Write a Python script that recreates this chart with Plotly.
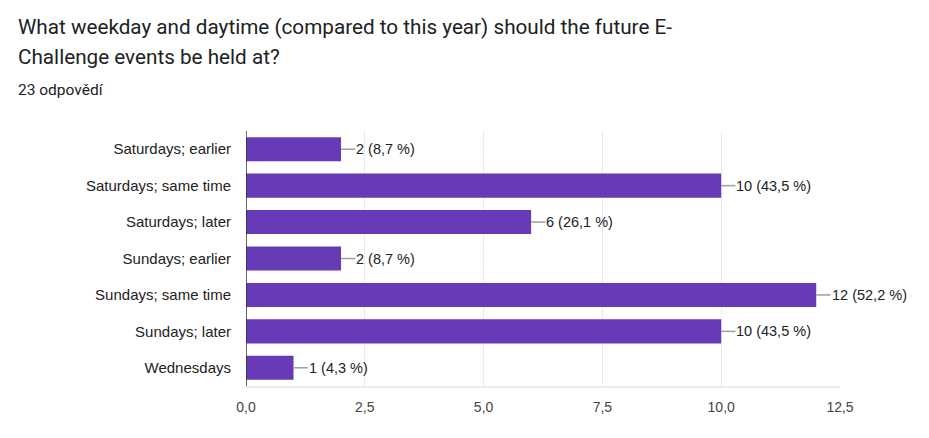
import plotly.graph_objects as go

categories = ["Saturdays; earlier", "Saturdays; same time", "Saturdays; later",
              "Sundays; earlier", "Sundays; same time", "Sundays; later", "Wednesdays"]
counts = [2, 10, 6, 2, 12, 10, 1]
total = 23
x_ticks = [0, 2.5, 5, 7.5, 10, 12.5]

labels = [f"{c} ({c / total * 100:.1f} %)".replace(".", ",") for c in counts]

# page body has an 8px margin; compensate so the chart sits like the reference
W, H = 913, 422
L, R, T, B = 238, 81, 123, 44
PW, PH = W - L - R, H - T - B

fig = go.Figure()
fig.add_trace(go.Bar(
    y=categories, x=counts, orientation="h",
    marker=dict(color="#673ab7", line=dict(width=0)),
    hoverinfo="skip",
))

# leader lines
lx, ly = [], []
for cat, c in zip(categories, counts):
    lx += [c, c + 0.3, None]
    ly += [cat, cat, None]
fig.add_trace(go.Scatter(x=lx, y=ly, mode="lines",
                         line=dict(color="#9e9e9e", width=1.5),
                         hoverinfo="skip", cliponaxis=False))

for cat, c, lab in zip(categories, counts, labels):
    fig.add_annotation(x=c + 0.3, y=cat, text=lab, showarrow=False,
                       xanchor="left", yanchor="middle", xshift=-1,
                       font=dict(family="Arial", size=14.5, color="#222222"))


def py(page_y):
    return 1 + ((T + 8) - page_y) / PH


title_x = (16 - 8 - L) / PW
fig.add_annotation(xref="paper", yref="paper", x=title_x, y=py(27),
                   text="What weekday and daytime (compared to this year) should the future E-",
                   showarrow=False, xanchor="left", yanchor="middle",
                   font=dict(family="Roboto", size=20.7, color="#202124"))
fig.add_annotation(xref="paper", yref="paper", x=title_x, y=py(57),
                   text="Challenge events be held at?",
                   showarrow=False, xanchor="left", yanchor="middle",
                   font=dict(family="Roboto", size=20.7, color="#202124"))
fig.add_annotation(xref="paper", yref="paper", x=title_x, y=py(90),
                   text="23 odpovědí",
                   showarrow=False, xanchor="left", yanchor="middle",
                   font=dict(family="Roboto", size=15.5, color="#202124"))

fig.update_layout(
    width=W, height=H,
    margin=dict(l=L, r=R, t=T, b=B),
    paper_bgcolor="white", plot_bgcolor="white",
    showlegend=False, bargap=0.34,
    separators=", ",
    xaxis=dict(range=[0, 12.5], tickvals=x_ticks, tickformat=".1f",
               showgrid=True, gridcolor="#ebebeb", gridwidth=1,
               zeroline=False, showline=True, linecolor="#ebebeb", linewidth=2,
               tickfont=dict(family="Arial", size=14, color="#444444"),
               ticks="", ticklabelstandoff=7),
    yaxis=dict(categoryorder="array", categoryarray=categories[::-1],
               autorange=False, range=[-0.5, 6.5],
               showgrid=False, zeroline=False,
               showline=False,
               tickfont=dict(family="Arial", size=15, color="#222222"),
               ticks="", ticklabelstandoff=14),
)
fig.add_shape(type="line", xref="x", yref="paper", x0=0, x1=0, y0=0, y1=1,
              line=dict(color="#333333", width=1.5))

fig.write_html("out.html")
